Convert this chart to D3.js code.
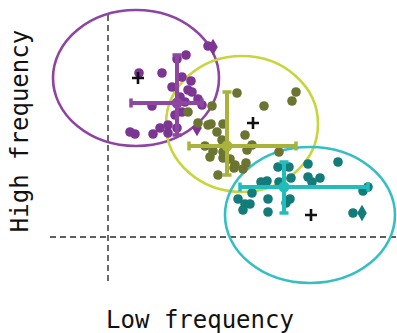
<!DOCTYPE html>
<html><head><meta charset="utf-8">
<script src="https://cdn.jsdelivr.net/npm/d3@7"></script>
<style>body{margin:0;background:#fff}svg{display:block}</style>
</head><body><svg id="c" width="397" height="333"></svg>
<script>
// Data (arbitrary units; dashed reference lines at 0)
const groups = ["purple", "olive", "teal"];
const purpleX = [10.0, 6.9, 7.8, 3.1, 5.4, 7.4, 6.4, 8.3, 8.0, 8.4, 7.2, 9.0, 9.4, 4.4, 7.4, 6.7, 6.0, 5.2, 4.5, 2.7, 2.2, 6.0, 7.7, 6.9];
const purpleY = [19.1, 17.8, 18.2, 16.4, 16.4, 16.0, 15.0, 15.6, 14.7, 14.5, 14.0, 13.8, 13.2, 13.1, 12.5, 12.2, 11.2, 10.9, 10.3, 10.3, 10.5, 10.4, 13.5, 10.9];
const purpleDiamondX = [10.5, 8.9];
const purpleDiamondY = [19.0, 10.9];
const oliveX = [12.9, 18.8, 18.4, 15.6, 10.4, 8.0, 9.0, 10.3, 11.5, 10.9, 13.7, 11.4, 9.7, 14.4, 10.5, 13.9, 11.5, 17.1, 10.2, 11.5, 12.2, 12.7, 13.8, 13.5, 12.6, 11.0, 10.0];
const oliveY = [14.4, 14.5, 13.6, 13.1, 13.1, 12.5, 11.4, 11.3, 11.3, 10.5, 10.2, 9.7, 9.1, 9.2, 8.6, 8.7, 8.5, 8.5, 8.0, 7.9, 7.8, 7.2, 7.4, 6.8, 6.9, 6.2, 11.2];
const tealX = [17.0, 18.1, 20.0, 23.0, 15.3, 15.9, 17.1, 18.3, 20.0, 20.4, 21.2, 14.4, 13.0, 13.7, 14.2, 13.5, 16.0, 16.0, 18.2, 17.8, 25.5, 26.0, 24.5];
const tealY = [7.0, 7.0, 7.3, 7.5, 5.5, 5.6, 5.5, 5.9, 6.0, 5.5, 5.9, 4.4, 3.8, 3.3, 3.3, 2.7, 3.8, 2.5, 3.8, 3.4, 4.6, 5.0, 2.4];
const tealDiamondX = [25.4];
const tealDiamondY = [2.4];
// Group means with error ranges
const meanX = [6.9, 11.9, 17.6];
const meanY = [13.4, 9.1, 5.0];
const errXLo = [2.3, 8.1, 13.2];
const errXHi = [9.4, 18.8, 26.0];
const errYLo = [10.2, 6.2, 2.4];
const errYHi = [18.2, 14.5, 7.5];
// Ellipses (center, radii) and centre markers
const ellCX = [2.8, 13.4, 20.2];
const ellCY = [15.9, 11.3, 2.2];
const ellRX = [8.3, 7.6, 8.5];
const ellRY = [6.8, 6.8, 6.8];
const plusX = [3.0, 14.5, 20.3];
const plusY = [15.9, 11.4, 2.2];
const xLabel = "Low frequency";
const yLabel = "High frequency";

const dotColor = ["#7c3592", "#6c7432", "#137b79"];
const ellColor = ["#8d44a3", "#c8d53c", "#35bfc3"];
const barColor = ["#8d47a1", "#a9b23a", "#21bdbd"];

const svg = d3.select("#c");
const x = d3.scaleLinear().domain([-6, 29]).range([48, 398]);
const y = d3.scaleLinear().domain([-6, 24]).range([297, -3]);
const sx = v => x(v) - x(0), sy = v => y(0) - y(v);

// reference lines
svg.append("line").attr("x1", x(0)).attr("x2", x(0)).attr("y1", y(22.2)).attr("y2", y(-4.8))
  .attr("stroke", "#2a2a2a").attr("stroke-width", 1.4).attr("stroke-dasharray", "6,4");
svg.append("line").attr("x1", x(-5.8)).attr("x2", x(29)).attr("y1", y(0)).attr("y2", y(0))
  .attr("stroke", "#2a2a2a").attr("stroke-width", 1.4).attr("stroke-dasharray", "6,4");

// ellipses
groups.forEach((g, i) => {
  svg.append("ellipse").attr("cx", x(ellCX[i])).attr("cy", y(ellCY[i]))
    .attr("rx", sx(ellRX[i])).attr("ry", sy(ellRY[i]))
    .attr("fill", "none").attr("stroke", ellColor[i]).attr("stroke-width", 2.6);
});

const pts = [[purpleX, purpleY], [oliveX, oliveY], [tealX, tealY]];
const dia = [[purpleDiamondX, purpleDiamondY], [[], []], [tealDiamondX, tealDiamondY]];
pts.forEach(([xs, ys], i) => {
  svg.append("g").selectAll("circle").data(xs.map((v, k) => [v, ys[k]])).join("circle")
    .attr("cx", d => x(d[0])).attr("cy", d => y(d[1])).attr("r", 4.8).attr("fill", dotColor[i]);
  const [dx, dy] = dia[i];
  svg.append("g").selectAll("path").data(dx.map((v, k) => [v, dy[k]])).join("path")
    .attr("d", d3.symbol(d3.symbolDiamond, 80))
    .attr("transform", d => `translate(${x(d[0])},${y(d[1])})`).attr("fill", dotColor[i]);
});

// mean crosses with error bars
groups.forEach((g, i) => {
  const gg = svg.append("g").attr("fill", barColor[i]).attr("stroke", barColor[i]);
  gg.append("line").attr("x1", x(errXLo[i])).attr("x2", x(errXHi[i])).attr("y1", y(meanY[i])).attr("y2", y(meanY[i])).attr("stroke-width", 4);
  gg.append("line").attr("x1", x(meanX[i])).attr("x2", x(meanX[i])).attr("y1", y(errYLo[i])).attr("y2", y(errYHi[i])).attr("stroke-width", 4);
  [[x(errXLo[i]), y(meanY[i]), 3.5, 9], [x(errXHi[i]), y(meanY[i]), 3.5, 9], [x(meanX[i]), y(errYLo[i]), 9, 3.5], [x(meanX[i]), y(errYHi[i]), 9, 3.5]]
    .forEach(([cx, cy, w, h]) => gg.append("rect").attr("x", cx - w / 2).attr("y", cy - h / 2).attr("width", w).attr("height", h).attr("stroke", "none"));
  gg.append("circle").attr("cx", x(meanX[i])).attr("cy", y(meanY[i])).attr("r", 5.5).attr("stroke", "none");
});

// centre plus markers
svg.append("g").selectAll("path").data(plusX.map((v, k) => [v, plusY[k]])).join("path")
  .attr("d", d => { const cx = x(d[0]), cy = y(d[1]); return `M${cx - 6},${cy}H${cx + 6}M${cx},${cy - 6}V${cy + 6}`; })
  .attr("stroke", "#111").attr("stroke-width", 2.6);

// axis labels
svg.append("text").attr("x", 200).attr("y", 328).attr("text-anchor", "middle")
  .attr("font-family", "DejaVu Sans Mono").attr("font-size", 24).attr("fill", "#111").text(xLabel);
svg.append("text").attr("transform", "translate(28,131) rotate(-90)").attr("text-anchor", "middle")
  .attr("font-family", "DejaVu Sans Mono").attr("font-size", 24).attr("fill", "#111").text(yLabel);
</script></body></html>
